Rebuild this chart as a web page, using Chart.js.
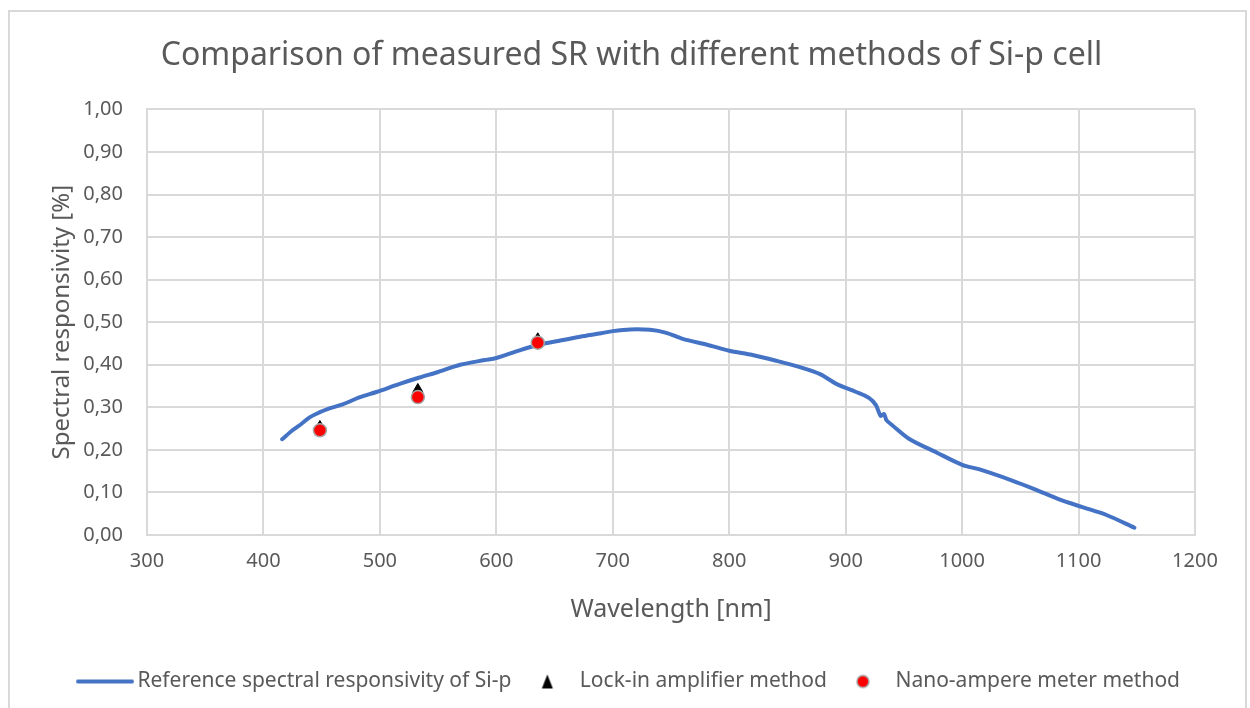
<!DOCTYPE html>
<html>
<head>
<meta charset="utf-8">
<script src="https://cdn.jsdelivr.net/npm/chart.js@4.4.1/dist/chart.umd.min.js"></script>
<style>
    html, body { margin: 0; padding: 0; background: #fff; }
    #wrap { position: relative; width: 1250px; height: 708px; }
    #frame { position: absolute; left: 8px; top: 10px; width: 1239px; height: 710px;
             border: 2px solid #d9d9d9; border-bottom: none; box-sizing: border-box; }
    canvas { position: absolute; left: 0; top: 0; }
</style>
</head>
<body>
<div id="wrap">
    <div id="frame"></div>
    <canvas id="srChart" width="1250" height="708"></canvas>
</div>
<script>
// reference curve
const wavelengths = [416, 425, 433, 440, 448, 455, 468, 483, 497, 517, 534, 550, 569, 590, 600, 620, 637, 655, 672, 690, 700,
    715, 732, 746, 760, 781, 800, 820, 841, 860, 878, 892, 909, 920, 926, 930, 933, 935, 940, 955, 978, 1000,
    1015, 1043, 1062, 1084, 1104, 1124, 1148];
const refSR = [0.225, 0.246, 0.262, 0.277, 0.288, 0.296, 0.307, 0.324, 0.336, 0.355, 0.370, 0.383, 0.400, 0.411, 0.416, 0.434, 0.447, 0.457, 0.466, 0.474, 0.479,
    0.483, 0.482, 0.475, 0.461, 0.447, 0.433, 0.423, 0.409, 0.395, 0.378, 0.355, 0.336, 0.322, 0.305, 0.280, 0.284, 0.270, 0.258, 0.225, 0.194, 0.165,
    0.154, 0.128, 0.108, 0.083, 0.065, 0.047, 0.017];

// measured points
const methodWavelengths = [448.5, 532.6, 635.6];
const lockInSR = [0.255, 0.342, 0.461];
const nanoAmpSR = [0.246, 0.324, 0.452];

const xTicks = [300, 400, 500, 600, 700, 800, 900, 1000, 1100, 1200];
const yTicks = [0, 0.1, 0.2, 0.3, 0.4, 0.5, 0.6, 0.7, 0.8, 0.9, 1.0];

const TXT = '#595959';
const GRID = '#d9d9d9';
const FONT = "'Noto Sans', 'Open Sans', sans-serif";

const pairs = (xs, ys) => xs.map((x, i) => ({ x: x, y: ys[i] }));

// little legend swatches
function swatch(w, h, draw) {
    const c = document.createElement('canvas');
    c.width = w; c.height = h;
    draw(c.getContext('2d'));
    return c;
}
const lineSwatch = swatch(58, 6, g => {
    g.strokeStyle = '#4472C4'; g.lineWidth = 4; g.lineCap = 'round';
    g.beginPath(); g.moveTo(2, 3); g.lineTo(56, 3); g.stroke();
});
const triSwatch = swatch(14, 16, g => {
    g.fillStyle = '#000';
    g.beginPath(); g.moveTo(7, 1); g.lineTo(12.5, 15); g.lineTo(1.5, 15); g.closePath(); g.fill();
});
const dotSwatch = swatch(16, 16, g => {
    g.fillStyle = '#FF0000'; g.strokeStyle = '#A5A5A5'; g.lineWidth = 1.5;
    g.beginPath(); g.arc(8, 8, 6, 0, Math.PI * 2); g.fill(); g.stroke();
});
const legendIcons = [lineSwatch, triSwatch, dotSwatch];

const ctx = document.getElementById('srChart').getContext('2d');
new Chart(ctx, {
    type: 'scatter',
    data: {
        datasets: [{
            label: 'Reference spectral responsivity of Si-p',
            data: pairs(wavelengths, refSR),
            showLine: true,
            borderColor: '#4472C4',
            borderWidth: 4,
            pointRadius: 0,
            tension: 0.3,
            borderCapStyle: 'round',
            order: 3
        }, {
            label: 'Lock-in amplifier method',
            data: pairs(methodWavelengths, lockInSR),
            pointStyle: 'triangle',
            pointRadius: 6,
            backgroundColor: '#000',
            borderColor: '#000',
            order: 2
        }, {
            label: 'Nano-ampere meter method',
            data: pairs(methodWavelengths, nanoAmpSR),
            pointStyle: 'circle',
            pointRadius: 6.5,
            backgroundColor: '#FF0000',
            borderColor: '#A5A5A5',
            borderWidth: 1.5,
            order: 1
        }]
    },
    options: {
        responsive: false,
        animation: false,
        layout: { padding: { left: 13, right: 0, top: 20, bottom: 6 } },
        plugins: {
            title: {
                display: true,
                text: 'Comparison of measured SR with different methods of Si-p cell',
                color: TXT,
                font: { family: FONT, size: 32, weight: 'normal' },
                padding: { top: 17, bottom: 34 }
            },
            legend: {
                position: 'bottom',
                labels: {
                    color: TXT,
                    font: { family: FONT, size: 21 },
                    usePointStyle: true,
                    boxWidth: 44,
                    pointStyleWidth: 44,
                    padding: 14,
                    generateLabels: chart => chart.data.datasets.map((ds, i) => ({
                        text: ds.label,
                        datasetIndex: i,
                        pointStyle: legendIcons[i],
                        fillStyle: 'transparent',
                        strokeStyle: 'transparent',
                        lineWidth: 0,
                        fontColor: TXT
                    }))
                }
            },
            tooltip: { enabled: false }
        },
        scales: {
            x: {
                type: 'linear',
                min: 300, max: 1200,
                afterBuildTicks: s => { s.ticks = xTicks.map(v => ({ value: v })); },
                grid: { color: GRID, lineWidth: 2, drawTicks: false },
                border: { color: GRID, width: 2 },
                ticks: { color: TXT, font: { family: FONT, size: 20 }, padding: 14,
                         callback: v => String(v) },
                title: { display: true, text: 'Wavelength [nm]', color: TXT,
                         font: { family: FONT, size: 25 }, padding: { top: 4, bottom: 32 } },
                afterFit: s => { s.height = 122; }
            },
            y: {
                min: 0, max: 1,
                afterBuildTicks: s => { s.ticks = yTicks.map(v => ({ value: v })); },
                grid: { color: GRID, lineWidth: 2, drawTicks: false },
                border: { color: GRID, width: 2 },
                ticks: {
                    color: TXT, font: { family: FONT, size: 20 }, padding: 24,
                    callback: v => v.toFixed(2).replace('.', ',')
                },
                title: { display: true, text: 'Spectral responsivity [%]', color: TXT,
                         font: { family: FONT, size: 24 }, padding: { top: 35, bottom: 4 } },
                afterFit: s => { s.width = 134; }
            },
            yRight: {
                position: 'right',
                display: true,
                grid: { display: false, drawTicks: false },
                border: { display: false },
                ticks: { display: false },
                afterFit: s => { s.width = 55; }
            }
        }
    }
});
</script>
</body>
</html>
